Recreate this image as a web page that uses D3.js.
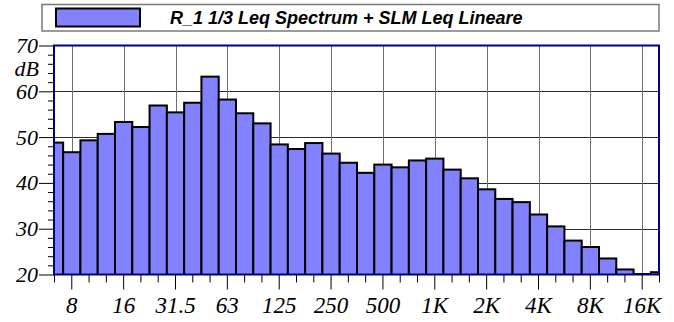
<!DOCTYPE html>
<html>
<head>
<meta charset="utf-8">
<script src="https://cdn.jsdelivr.net/npm/d3@7"></script>
<style>
  html, body { margin: 0; padding: 0; background: #fff; }
  svg { display: block; }
  svg text.num { font-family: 'Liberation Serif', 'DejaVu Serif', serif; font-style: italic; fill: #000; }
  svg text.legend-text { font-family: 'Liberation Sans', Arial, sans-serif; font-weight: bold; font-style: italic; font-size: 18px; fill: #000; }
</style>
</head>
<body>
<svg id="chart" width="674" height="322"></svg>
<script>
// 1/3-octave band centres, 6.3 Hz .. 20 kHz
const bands = ["6.3","8","10","12.5","16","20","25","31.5","40","50","63","80","100","125",
  "160","200","250","315","400","500","630","800","1K","1.25K","1.6K","2K","2.5K","3.15K",
  "4K","5K","6.3K","8K","10K","12.5K","16K","20K"];

// Leq per band, dB
const leq = [48.8,46.7,49.3,50.7,53.3,52.2,56.9,55.4,57.5,63.2,58.2,55.2,53.0,48.4,
  47.4,48.7,46.4,44.4,42.2,44.0,43.4,44.9,45.3,42.9,41.0,38.6,36.5,35.8,
  33.1,30.5,27.4,26.0,23.5,21.1,20.1,20.5];

// Octave bands that carry a label on the frequency axis
const octaveLabels = ["8","16","31.5","63","125","250","500","1K","2K","4K","8K","16K"];

const yMajor = [20,30,40,50,60,70];
const yGrid = [30,40,50,60];
const seriesName = "R_1 1/3 Leq Spectrum + SLM Leq Lineare";
const barColor = "#8282ff";

const svg = d3.select("#chart");
const plot = { left: 54, right: 659, top: 45.5, bottom: 274.5 };
const step = (plot.right - plot.left) / (bands.length - 1);

const x = d3.scaleBand()
  .domain(bands)
  .range([plot.left + 0.5 - step / 2, plot.right + 0.5 + step / 2])
  .paddingInner(0).paddingOuter(0);

const y = d3.scaleLinear().domain([20, 70]).range([plot.bottom, plot.top]);

const defs = svg.append("defs");
defs.append("clipPath").attr("id", "plotClip")
  .append("rect")
  .attr("x", plot.left).attr("y", plot.top)
  .attr("width", plot.right - plot.left).attr("height", plot.bottom - plot.top);

// Legend
const lg = svg.append("g");
lg.append("rect").attr("x", 42).attr("y", 4.5).attr("width", 617).attr("height", 26.5)
  .attr("fill", "#fff").attr("stroke", "#7a7a7a").attr("stroke-width", 1.5);
lg.append("rect").attr("x", 56).attr("y", 8.5).attr("width", 84).attr("height", 18)
  .attr("fill", barColor).attr("stroke", "#000").attr("stroke-width", 2);
lg.append("text").attr("class", "legend-text").attr("x", 170).attr("y", 23.5)
  .text(seriesName);

// Grid
const grid = svg.append("g");
grid.selectAll("line.h").data(yGrid).join("line").attr("class", "h")
  .attr("x1", plot.left).attr("x2", plot.right)
  .attr("y1", d => Math.round(y(d)) + 0.5).attr("y2", d => Math.round(y(d)) + 0.5)
  .attr("stroke", "#2a2a2a").attr("stroke-width", 1);
grid.selectAll("line.v").data(octaveLabels).join("line").attr("class", "v")
  .attr("x1", d => Math.round(x(d) + x.bandwidth() / 2) + 0.5)
  .attr("x2", d => Math.round(x(d) + x.bandwidth() / 2) + 0.5)
  .attr("y1", plot.top).attr("y2", plot.bottom)
  .attr("stroke", "#707070").attr("stroke-width", 1);

// Bars
svg.append("g").attr("clip-path", "url(#plotClip)")
  .selectAll("rect").data(bands).join("rect")
  .attr("x", d => x(d))
  .attr("width", x.bandwidth())
  .attr("y", (d, i) => y(leq[i]))
  .attr("height", (d, i) => y(20) - y(leq[i]) + 2)
  .attr("fill", barColor)
  .attr("stroke", "#000").attr("stroke-width", 2);

// Frame
svg.append("rect")
  .attr("x", plot.left).attr("y", plot.top)
  .attr("width", plot.right - plot.left).attr("height", plot.bottom - plot.top)
  .attr("fill", "none").attr("stroke", "#000080").attr("stroke-width", 2);

// Y axis: major ticks every 10 dB, minor every 2 dB
const yAxis = d3.axisLeft(y).tickValues(yMajor).tickSize(15).tickPadding(1)
  .tickFormat(d3.format("d"));
const gy = svg.append("g").attr("transform", `translate(${plot.left},0)`).call(yAxis);
gy.attr("font-family", null).attr("font-size", null);
gy.select(".domain").remove();
gy.selectAll(".tick line").attr("stroke", "#000");
gy.selectAll(".tick text").attr("class", "num").style("font-size", "22px");

const yMinor = d3.axisLeft(y).tickValues(d3.range(20, 71, 2).filter(v => v % 10 !== 0))
  .tickSize(6).tickFormat("");
const gym = svg.append("g").attr("transform", `translate(${plot.left},0)`).call(yMinor);
gym.select(".domain").remove();
gym.selectAll(".tick line").attr("stroke", "#000");

svg.append("text").attr("class", "num")
  .attr("x", 39).attr("y", y(65)).attr("dy", "0.35em")
  .style("text-anchor", "end").style("font-size", "22px")
  .text("dB");

// X axis: a tick at every band, longer and labelled at octaves
const xAxis = d3.axisBottom(x).tickSize(8).tickFormat("");
const gx = svg.append("g").attr("transform", `translate(0,${plot.bottom})`).call(xAxis);
gx.attr("font-family", null).attr("font-size", null);
gx.select(".domain").remove();
gx.selectAll(".tick line")
  .attr("stroke", "#000")
  .attr("y2", d => octaveLabels.includes(d) ? 15 : 8);
gx.selectAll(".tick")
  .filter(d => octaveLabels.includes(d))
  .append("text").attr("class", "num")
  .attr("y", 38)
  .style("text-anchor", "middle").style("font-size", "23px")
  .text(d => d);
</script>
</body>
</html>
